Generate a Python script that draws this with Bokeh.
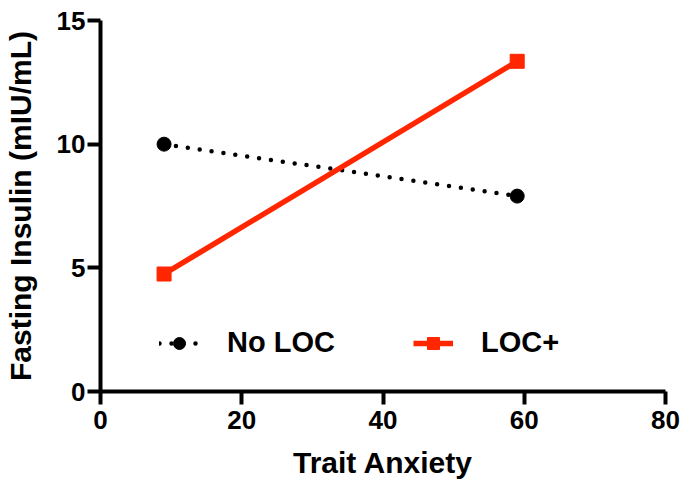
from bokeh.plotting import figure
from bokeh.models import Range1d, Legend, LegendItem, FixedTicker
from bokeh.embed import file_html
from bokeh.resources import INLINE

# data
x_vals = [9, 59]
no_loc = [10.0, 7.9]
loc_plus = [4.75, 13.35]
x_ticks = [0, 20, 40, 60, 80]
y_ticks = [0, 5, 10, 15]

RED = "#FF2600"
FONT = "Liberation Sans"

p = figure(width=683, height=488, output_backend="svg", toolbar_location=None,
           x_range=Range1d(0, 80), y_range=Range1d(0, 15),
           min_border_left=100, min_border_right=18, min_border_top=20, min_border_bottom=97)
p.outline_line_color = None
p.xgrid.visible = False
p.ygrid.visible = False

r1 = p.line(x_vals, no_loc, line_color="black", line_width=4.5, line_dash="0 12", line_cap="round")
m1 = p.scatter(x_vals, no_loc, marker="circle", size=14, color="black")
r2 = p.line(x_vals, loc_plus, line_color=RED, line_width=5.5)
m2 = p.scatter(x_vals, loc_plus, marker="square", size=14, color=RED)

for ax in (p.xaxis[0], p.yaxis[0]):
    ax.axis_line_width = 4
    ax.axis_line_color = "black"
    ax.major_tick_line_width = 4
    ax.major_tick_out = 13
    ax.major_tick_in = 0
    ax.minor_tick_line_color = None
    ax.major_label_text_font = FONT
    ax.major_label_text_font_style = "bold"
    ax.major_label_text_font_size = "26px"
    ax.major_label_text_color = "black"
    ax.axis_label_text_font = FONT
    ax.axis_label_text_font_style = "bold"
    ax.axis_label_text_font_size = "30px"
    ax.axis_label_text_color = "black"

p.xaxis[0].ticker = FixedTicker(ticks=x_ticks)
p.yaxis[0].ticker = FixedTicker(ticks=y_ticks)
p.xaxis[0].axis_label = "Trait Anxiety"
p.yaxis[0].axis_label = "Fasting Insulin (mIU/mL)"
p.xaxis[0].major_label_standoff = 6
p.xaxis[0].axis_label_standoff = 14
p.yaxis[0].major_label_standoff = 2
p.yaxis[0].axis_label_standoff = 17

legend = Legend(items=[LegendItem(label="No LOC", renderers=[r1, m1]),
                       LegendItem(label="LOC+", renderers=[r2, m2])],
                orientation="horizontal", location=(59, 32))
legend.padding = 0
legend.margin = 0
legend.border_line_alpha = 0
legend.background_fill_alpha = 0
legend.glyph_width = 40
legend.glyph_height = 30
legend.label_height = 30
legend.label_standoff = 28
legend.spacing = 78
legend.label_text_font = FONT
legend.label_text_font_style = "bold"
legend.label_text_font_size = "29px"
legend.label_text_color = "black"
p.add_layout(legend, "center")

open("out.html", "w").write(file_html(p, INLINE))
